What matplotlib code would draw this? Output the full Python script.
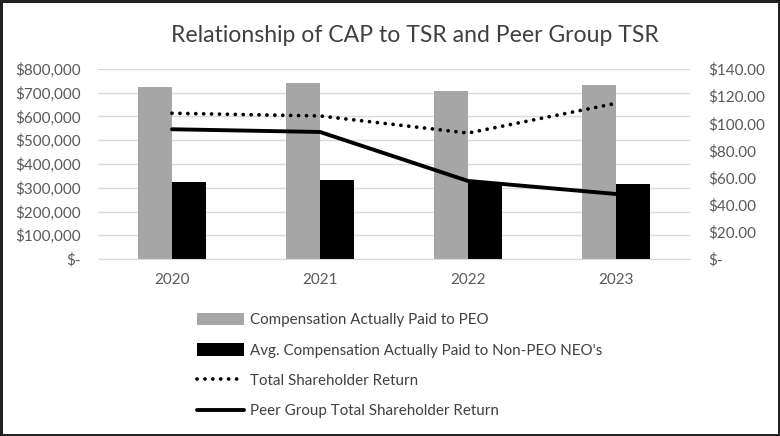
import numpy as np
import matplotlib.pyplot as plt
from matplotlib.ticker import FuncFormatter

years = ['2020', '2021', '2022', '2023']
cap_peo = [723000, 741000, 707000, 733000]
cap_neo = [324000, 333000, 322000, 314000]
tsr = [107.4, 105.4, 92.8, 114.7]
peer_tsr = [95.6, 93.6, 57.5, 47.9]

plt.rcParams['font.family'] = ['Lato', 'DejaVu Sans']

fig = plt.figure(figsize=(7.8, 4.36), dpi=100)
fig.patch.set_edgecolor('#222222')
fig.patch.set_linewidth(2.5)

ax = fig.add_axes([98 / 780, 1 - 259 / 436, 592 / 780, 190 / 436])
ax2 = ax.twinx()

x = np.arange(len(years))
w = 0.23
ax.bar(x - w / 2, cap_peo, w, color='#a6a6a6', label='Compensation Actually Paid to PEO', zorder=2)
ax.bar(x + w / 2, cap_neo, w, color='#000000', label="Avg. Compensation Actually Paid to Non-PEO NEO's", zorder=2)

ax2.plot(x, tsr, color='black', linestyle=(0, (0.01, 2.1)), linewidth=2.7,
         dash_capstyle='round', label='Total Shareholder Return')
ax2.plot(x, peer_tsr, color='black', linewidth=2.8, solid_capstyle='round',
         label='Peer Group Total Shareholder Return')

ax.set_xlim(-0.5, len(years) - 0.5)
ax.set_ylim(0, 800000)
ax.set_yticks(np.arange(0, 800001, 100000))
ax2.set_ylim(0, 140)
ax2.set_yticks(np.arange(0, 141, 20))

ax.yaxis.set_major_formatter(FuncFormatter(lambda v, p: '$-' if v == 0 else f'${v:,.0f}'))
ax2.yaxis.set_major_formatter(FuncFormatter(lambda v, p: '$-' if v == 0 else f'${v:,.2f}'))

ax.set_xticks(x)
ax.set_xticklabels(years)
ax.grid(axis='y', color='#d9d9d9', linewidth=1, zorder=0)
ax.set_axisbelow(True)
for a in (ax, ax2):
    for s in a.spines.values():
        s.set_visible(False)
    a.tick_params(length=0, labelsize=11, colors='#595959', pad=12)
ax.tick_params(axis='x', pad=10)
ax2.tick_params(axis='y', pad=13)
ax.spines['bottom'].set_visible(True)
ax.spines['bottom'].set_color('#d9d9d9')

fig.text(415 / 780, 1 - 36 / 436, 'Relationship of CAP to TSR and Peer Group TSR',
         ha='center', va='center', fontsize=16.6, color='#404040')

h1, l1 = ax.get_legend_handles_labels()
h2, l2 = ax2.get_legend_handles_labels()
fig.legend(h1 + h2, l1 + l2, loc='upper left', bbox_to_anchor=(183 / 780, 1 - 299 / 436),
           frameon=False, fontsize=10.9, labelcolor='#404040', handlelength=3.1,
           handleheight=0.9, labelspacing=1.05, handletextpad=0.45)

fig.savefig('out.png', dpi=100, edgecolor=fig.get_edgecolor())
